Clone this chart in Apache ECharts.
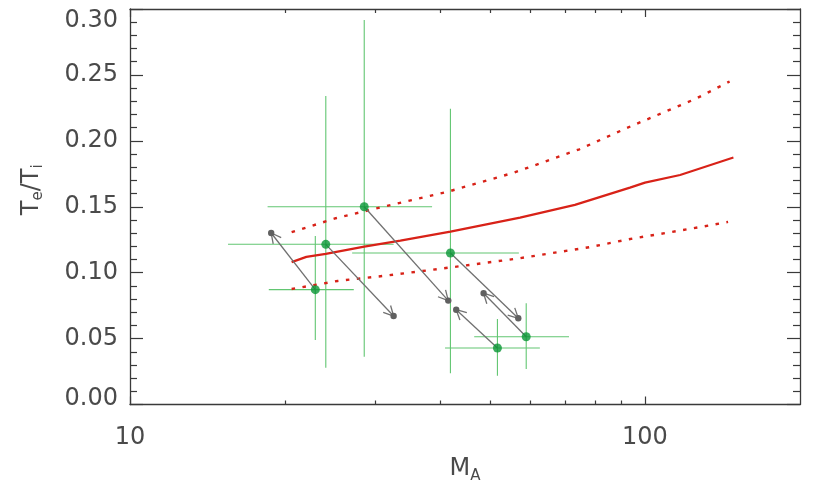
<!DOCTYPE html>
<html><head><meta charset="utf-8">
<script src="https://cdn.jsdelivr.net/npm/echarts@6/dist/echarts.min.js"></script>
<style>html,body{margin:0;padding:0;background:#fff}#c{width:822px;height:494px}</style>
</head><body><div id="c"></div>
<script>
// ---- axis ticks ----
const xMajorTicks = [10, 100];
const xMinorTicks = [20, 30, 40, 50, 60, 70, 80, 90];
const yMin = 0, yMax = 0.30, yStep = 0.05;

// ---- model curves (M_A, Te/Ti) ----
const modelMid = [[20.6,0.108],[22.0,0.112],[24.0,0.1142],[28.5,0.1197],[33.5,0.1243],[41.9,0.1311],[57.2,0.1417],[73.1,0.1514],[93.5,0.1645],[100,0.1683],[117,0.1741],[148.5,0.1873]];
const modelUpper = [[20.6,0.1307],[25.1,0.1413],[30.7,0.1496],[41.5,0.1615],[55.7,0.1759],[74.6,0.1936],[94.2,0.2113],[125.3,0.2318],[146,0.245]];
const modelLower = [[20.6,0.0876],[25.3,0.0937],[31.0,0.0975],[42.2,0.1041],[57.0,0.1109],[77.9,0.1193],[95.2,0.1261],[111,0.1304],[129.2,0.1349],[145,0.1385]];

// ---- measurements ----
const obsMA   = [28.5, 24.0, 22.9, 41.9, 51.7, 58.8];
const obsMAlo = [18.5, 15.5, 18.6, 27.0, 40.9, 46.6];
const obsMAhi = [38.6, 32.5, 27.2, 56.9, 62.5, 71.2];
const obsT    = [0.150, 0.1215, 0.0871, 0.1149, 0.0429, 0.0514];
const obsTlo  = [0.0363, 0.0279, 0.0489, 0.0237, 0.0219, 0.0269];
const obsThi  = [0.2917, 0.2341, 0.1278, 0.2244, 0.0649, 0.0768];
// ---- shifted (arrow end) points ----
const shiftMA = [41.5, 32.5, 18.8, 56.75, 43.0, 48.6];
const shiftT  = [0.0788, 0.0671, 0.1301, 0.0654, 0.0719, 0.0844];

const chart = echarts.init(document.getElementById('c'), null, {renderer:'canvas'});
const FONT = 'DejaVu Sans';
const TXT = '#4a4a4a';
const AX = '#3a3a3a';
const FS = 24;

const errData = obsMA.map((x,i)=>[x, obsT[i], obsMAlo[i], obsMAhi[i], obsTlo[i], obsThi[i]]);
const arrowData = obsMA.map((x,i)=>[x, obsT[i], shiftMA[i], shiftT[i]]);
const pointData = obsMA.map((x,i)=>[x, obsT[i]]);

function xAxisBase(pos, ticks, len, showLine, showLabel){
  return {
    type:'log', logBase:10, min:10, max:200, position:pos, gridIndex:0,
    axisLine:{show:showLine, onZero:false, lineStyle:{color:AX, width:1.3}},
    axisTick:{show:true, inside:true, length:len, customValues:ticks, lineStyle:{color:AX, width:1.2}},
    axisLabel:{show:showLabel, customValues:xMajorTicks, margin:21, fontFamily:FONT, fontSize:FS, color:TXT,
      formatter:v=>String(Math.round(v))},
    splitLine:{show:false}, minorTick:{show:false}, minorSplitLine:{show:false}
  };
}
function yAxisBase(pos, showLabel){
  return {
    type:'value', min:yMin, max:yMax, interval:yStep, position:pos, gridIndex:0,
    axisLine:{show:true, lineStyle:{color:AX, width:1.3}},
    axisTick:{show:true, inside:true, length:13, lineStyle:{color:AX, width:1.2}},
    minorTick:{show:true, splitNumber:5, length:7, lineStyle:{color:AX, width:1.2}},
    axisLabel:{show:showLabel, margin:12, fontFamily:FONT, fontSize:FS, color:TXT,
      formatter:v=>{
        const s = v.toFixed(2);
        if (Math.abs(v - yMax) < 1e-9) return '{top|' + s + '}';
        if (Math.abs(v - yMin) < 1e-9) return '{bot|' + s + '}';
        return s;
      },
      rich:{
        top:{fontFamily:FONT, fontSize:FS, color:TXT, padding:[24,0,0,0]},
        bot:{fontFamily:FONT, fontSize:FS, color:TXT, padding:[0,0,12,0]}
      }},
    splitLine:{show:false}
  };
}

const xMain = xAxisBase('bottom', xMajorTicks, 8, true, true);
xMain.name = 'M{sub|A}';
xMain.nameLocation = 'middle';
xMain.nameGap = 50;
xMain.nameTextStyle = {fontFamily:FONT, fontSize:FS, color:TXT, rich:{sub:{fontFamily:FONT, fontSize:15, color:TXT, padding:[14,0,0,0]}}};

const yMainAx = yAxisBase('left', true);
yMainAx.name = 'T{sub|e}/T{sub|i}';
yMainAx.nameLocation = 'middle';
yMainAx.nameGap = 84;
yMainAx.nameTextStyle = {fontFamily:FONT, fontSize:FS, color:TXT, padding:[0,0,0,34],
  rich:{sub:{fontFamily:FONT, fontSize:15, color:TXT, padding:[14,0,0,0]}}};

const option = {
  animation:false,
  backgroundColor:'#fff',
  grid:{left:130, right:22, top:9, bottom:89.5, containLabel:false},
  xAxis:[
    xMain,
    xAxisBase('bottom', xMinorTicks, 4, false, false),
    xAxisBase('top', xMajorTicks, 8, true, false),
    xAxisBase('top', xMinorTicks, 4, false, false)
  ],
  yAxis:[ yMainAx, yAxisBase('right', false) ],
  series:[
    {
      type:'custom', xAxisIndex:0, yAxisIndex:0, z:1,
      data:errData,
      encode:{x:[0,2,3], y:[1,4,5]},
      renderItem:(params, api)=>{
        const c = api.coord([api.value(0), api.value(1)]);
        const l = api.coord([api.value(2), api.value(1)]);
        const r = api.coord([api.value(3), api.value(1)]);
        const b = api.coord([api.value(0), api.value(4)]);
        const t = api.coord([api.value(0), api.value(5)]);
        const st = {stroke:'#62c672', lineWidth:1.1};
        return {type:'group', children:[
          {type:'line', shape:{x1:l[0], y1:l[1], x2:r[0], y2:r[1]}, style:st},
          {type:'line', shape:{x1:c[0], y1:b[1], x2:c[0], y2:t[1]}, style:st}
        ]};
      }
    },
    {type:'line', data:modelLower, showSymbol:false, symbol:'none', z:2,
      lineStyle:{color:'#d82218', width:2.4, type:[3.5,7.5]}},
    {type:'line', data:modelUpper, showSymbol:false, symbol:'none', z:2,
      lineStyle:{color:'#d82218', width:2.4, type:[3.5,7.5]}},
    {type:'line', data:modelMid, showSymbol:false, symbol:'none', z:2,
      lineStyle:{color:'#d82218', width:2.2}},
    {
      type:'custom', xAxisIndex:0, yAxisIndex:0, z:3,
      data:arrowData,
      encode:{x:[0,2], y:[1,3]},
      renderItem:(params, api)=>{
        const p0 = api.coord([api.value(0), api.value(1)]);
        const p1 = api.coord([api.value(2), api.value(3)]);
        const ang = Math.atan2(p1[1]-p0[1], p1[0]-p0[0]);
        const L = 11, a = 0.48;
        const h1 = [p1[0]-L*Math.cos(ang-a), p1[1]-L*Math.sin(ang-a)];
        const h2 = [p1[0]-L*Math.cos(ang+a), p1[1]-L*Math.sin(ang+a)];
        const st = {stroke:'#707070', lineWidth:1.3};
        return {type:'group', children:[
          {type:'line', shape:{x1:p0[0], y1:p0[1], x2:p1[0], y2:p1[1]}, style:st},
          {type:'line', shape:{x1:p1[0], y1:p1[1], x2:h1[0], y2:h1[1]}, style:st},
          {type:'line', shape:{x1:p1[0], y1:p1[1], x2:h2[0], y2:h2[1]}, style:st},
          {type:'circle', shape:{cx:p1[0], cy:p1[1], r:3.2}, style:{fill:'#606060'}}
        ]};
      }
    },
    {type:'scatter', data:pointData, symbol:'circle', symbolSize:9, z:4,
      itemStyle:{color:'#0a9636'}}
  ]
};
chart.setOption(option);
</script>
</body></html>
